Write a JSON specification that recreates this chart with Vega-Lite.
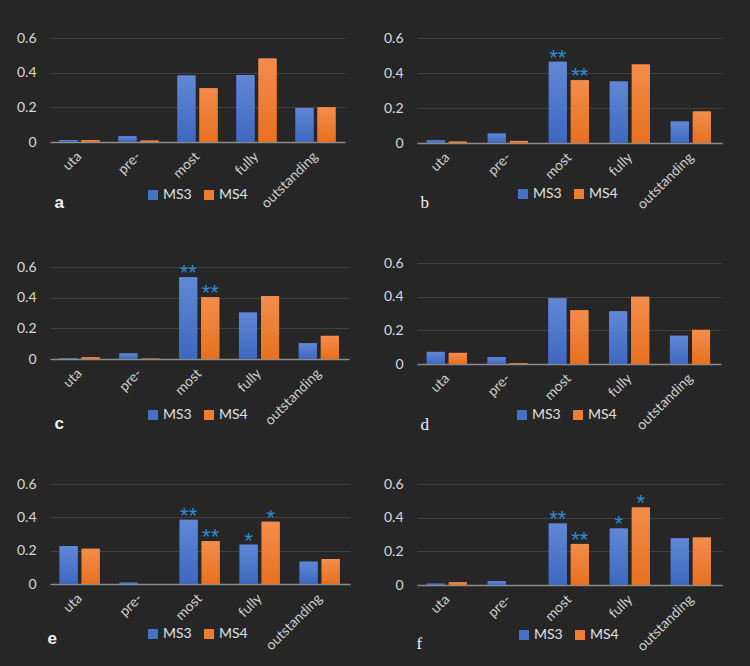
{
  "$schema": "https://vega.github.io/schema/vega-lite/v6.json",
  "background": "#262626",
  "padding": {"left": 16, "top": 31, "right": 32, "bottom": 14},
  "data": {
    "values": [
      {"panel": "a", "cat": "uta", "series": "MS3", "value": 0.01, "sig": ""},
      {"panel": "a", "cat": "uta", "series": "MS4", "value": 0.01, "sig": ""},
      {"panel": "a", "cat": "pre-", "series": "MS3", "value": 0.033, "sig": ""},
      {"panel": "a", "cat": "pre-", "series": "MS4", "value": 0.008, "sig": ""},
      {"panel": "a", "cat": "most", "series": "MS3", "value": 0.383, "sig": ""},
      {"panel": "a", "cat": "most", "series": "MS4", "value": 0.31, "sig": ""},
      {"panel": "a", "cat": "fully", "series": "MS3", "value": 0.387, "sig": ""},
      {"panel": "a", "cat": "fully", "series": "MS4", "value": 0.482, "sig": ""},
      {"panel": "a", "cat": "outstanding", "series": "MS3", "value": 0.196, "sig": ""},
      {"panel": "a", "cat": "outstanding", "series": "MS4", "value": 0.2, "sig": ""},
      {"panel": "b", "cat": "uta", "series": "MS3", "value": 0.015, "sig": ""},
      {"panel": "b", "cat": "uta", "series": "MS4", "value": 0.008, "sig": ""},
      {"panel": "b", "cat": "pre-", "series": "MS3", "value": 0.054, "sig": ""},
      {"panel": "b", "cat": "pre-", "series": "MS4", "value": 0.012, "sig": ""},
      {"panel": "b", "cat": "most", "series": "MS3", "value": 0.464, "sig": "**"},
      {"panel": "b", "cat": "most", "series": "MS4", "value": 0.358, "sig": "**"},
      {"panel": "b", "cat": "fully", "series": "MS3", "value": 0.351, "sig": ""},
      {"panel": "b", "cat": "fully", "series": "MS4", "value": 0.449, "sig": ""},
      {"panel": "b", "cat": "outstanding", "series": "MS3", "value": 0.123, "sig": ""},
      {"panel": "b", "cat": "outstanding", "series": "MS4", "value": 0.18, "sig": ""},
      {"panel": "c", "cat": "uta", "series": "MS3", "value": 0.004, "sig": ""},
      {"panel": "c", "cat": "uta", "series": "MS4", "value": 0.011, "sig": ""},
      {"panel": "c", "cat": "pre-", "series": "MS3", "value": 0.036, "sig": ""},
      {"panel": "c", "cat": "pre-", "series": "MS4", "value": 0.002, "sig": ""},
      {"panel": "c", "cat": "most", "series": "MS3", "value": 0.533, "sig": "**"},
      {"panel": "c", "cat": "most", "series": "MS4", "value": 0.402, "sig": "**"},
      {"panel": "c", "cat": "fully", "series": "MS3", "value": 0.303, "sig": ""},
      {"panel": "c", "cat": "fully", "series": "MS4", "value": 0.411, "sig": ""},
      {"panel": "c", "cat": "outstanding", "series": "MS3", "value": 0.103, "sig": ""},
      {"panel": "c", "cat": "outstanding", "series": "MS4", "value": 0.151, "sig": ""},
      {"panel": "d", "cat": "uta", "series": "MS3", "value": 0.072, "sig": ""},
      {"panel": "d", "cat": "uta", "series": "MS4", "value": 0.066, "sig": ""},
      {"panel": "d", "cat": "pre-", "series": "MS3", "value": 0.041, "sig": ""},
      {"panel": "d", "cat": "pre-", "series": "MS4", "value": 0.004, "sig": ""},
      {"panel": "d", "cat": "most", "series": "MS3", "value": 0.391, "sig": ""},
      {"panel": "d", "cat": "most", "series": "MS4", "value": 0.319, "sig": ""},
      {"panel": "d", "cat": "fully", "series": "MS3", "value": 0.313, "sig": ""},
      {"panel": "d", "cat": "fully", "series": "MS4", "value": 0.399, "sig": ""},
      {"panel": "d", "cat": "outstanding", "series": "MS3", "value": 0.168, "sig": ""},
      {"panel": "d", "cat": "outstanding", "series": "MS4", "value": 0.203, "sig": ""},
      {"panel": "e", "cat": "uta", "series": "MS3", "value": 0.228, "sig": ""},
      {"panel": "e", "cat": "uta", "series": "MS4", "value": 0.212, "sig": ""},
      {"panel": "e", "cat": "pre-", "series": "MS3", "value": 0.008, "sig": ""},
      {"panel": "e", "cat": "pre-", "series": "MS4", "value": 0, "sig": ""},
      {"panel": "e", "cat": "most", "series": "MS3", "value": 0.386, "sig": "**"},
      {"panel": "e", "cat": "most", "series": "MS4", "value": 0.257, "sig": "**"},
      {"panel": "e", "cat": "fully", "series": "MS3", "value": 0.236, "sig": "*"},
      {"panel": "e", "cat": "fully", "series": "MS4", "value": 0.374, "sig": "*"},
      {"panel": "e", "cat": "outstanding", "series": "MS3", "value": 0.134, "sig": ""},
      {"panel": "e", "cat": "outstanding", "series": "MS4", "value": 0.15, "sig": ""},
      {"panel": "f", "cat": "uta", "series": "MS3", "value": 0.008, "sig": ""},
      {"panel": "f", "cat": "uta", "series": "MS4", "value": 0.016, "sig": ""},
      {"panel": "f", "cat": "pre-", "series": "MS3", "value": 0.022, "sig": ""},
      {"panel": "f", "cat": "pre-", "series": "MS4", "value": 0, "sig": ""},
      {"panel": "f", "cat": "most", "series": "MS3", "value": 0.366, "sig": "**"},
      {"panel": "f", "cat": "most", "series": "MS4", "value": 0.244, "sig": "**"},
      {"panel": "f", "cat": "fully", "series": "MS3", "value": 0.336, "sig": "*"},
      {"panel": "f", "cat": "fully", "series": "MS4", "value": 0.461, "sig": "*"},
      {"panel": "f", "cat": "outstanding", "series": "MS3", "value": 0.278, "sig": ""},
      {"panel": "f", "cat": "outstanding", "series": "MS4", "value": 0.282, "sig": ""}
    ]
  },
  "config": {
    "view": {"stroke": null},
    "axisX": {
      "domainColor": "#8c8c8c", "domainWidth": 1.5, "ticks": false, "tickSize": 0, "grid": false,
      "labelAngle": -45, "labelAlign": "right", "labelBaseline": "middle", "labelPadding": 12,
      "labelFont": "Lato", "labelFontSize": 14, "labelColor": "#d0d0d0", "titleColor": "#f2f2f2",
      "titleAlign": "left", "titleBaseline": "alphabetic", "titleFontSize": 17
    },
    "axisY": {
      "domain": false, "ticks": false, "tickSize": 0, "labelPadding": 14,
      "labelFont": "Lato", "labelFontSize": 14, "labelColor": "#d9d9d9", "gridColor": "#404040", "gridWidth": 1
    },
    "legend": {
      "symbolType": "square", "symbolSize": 100, "symbolStrokeWidth": 0, "labelFont": "Lato",
      "labelFontSize": 14, "labelColor": "#e0e0e0", "labelOffset": 3, "columnPadding": 10, "padding": 0
    }
  },
  "resolve": {"scale": {"color": "independent"}},
  "spacing": 33,
  "hconcat": [
    {
      "bounds": "flush",
      "spacing": 125,
      "resolve": {"scale": {"color": "independent"}},
      "vconcat": [
        {
          "width": 295, "height": 104,
          "transform": [{"filter": "datum.panel === 'a'"}],
          "encoding": {
            "x": {"field": "cat", "type": "nominal", "sort": ["uta", "pre-", "most", "fully", "outstanding"], "scale": {"paddingInner": 0.32, "paddingOuter": 0.16},
              "axis": {"title": "a", "titleX": 4, "titleY": 65, "titleFont": "Liberation Sans", "titleFontWeight": "bold"}},
            "xOffset": {"field": "series", "type": "nominal", "scale": {"paddingInner": 0.18}},
            "y": {"field": "value", "type": "quantitative", "scale": {"domain": [0, 0.6]}, "axis": {"title": null, "values": [0, 0.2, 0.4, 0.6], "labelExpr": "datum.value === 0 ? '0' : format(datum.value, '.1f')"}}
          },
          "layer": [
            {"mark": {"type": "bar"}, "encoding": {"color": {"field": "series", "type": "nominal", "scale": {"domain": ["MS3", "MS4"], "range": ["#4472c4", "#ed7d31"]}, "legend": {"orient": "none", "legendX": 96, "legendY": 150, "direction": "horizontal", "title": null}}}},
            {"mark": {"type": "bar"}, "encoding": {"fill": {"condition": {"test": "datum.series === 'MS3'", "value": {"gradient": "linear", "x1": 0, "y1": 0, "x2": 0, "y2": 1, "stops": [{"offset": 0, "color": "#6088d6"}, {"offset": 1, "color": "#3d68bf"}]}}, "value": {"gradient": "linear", "x1": 0, "y1": 0, "x2": 0, "y2": 1, "stops": [{"offset": 0, "color": "#f38d4c"}, {"offset": 1, "color": "#e8701f"}]}}}},
            {"mark": {"type": "text", "font": "Liberation Sans", "fontSize": 22, "color": "#2e8ad2", "baseline": "alphabetic", "align": "center", "dy": 3}, "encoding": {"text": {"field": "sig"}}}
          ]
        },
        {
          "width": 299, "height": 92,
          "transform": [{"filter": "datum.panel === 'c'"}],
          "encoding": {
            "x": {"field": "cat", "type": "nominal", "sort": ["uta", "pre-", "most", "fully", "outstanding"], "scale": {"paddingInner": 0.32, "paddingOuter": 0.16},
              "axis": {"title": "c", "titleX": 4, "titleY": 69, "titleFont": "Liberation Sans", "titleFontWeight": "bold"}},
            "xOffset": {"field": "series", "type": "nominal", "scale": {"paddingInner": 0.18}},
            "y": {"field": "value", "type": "quantitative", "scale": {"domain": [0, 0.6]}, "axis": {"title": null, "values": [0, 0.2, 0.4, 0.6], "labelExpr": "datum.value === 0 ? '0' : format(datum.value, '.1f')"}}
          },
          "layer": [
            {"mark": {"type": "bar"}, "encoding": {"color": {"field": "series", "type": "nominal", "scale": {"domain": ["MS3", "MS4"], "range": ["#4472c4", "#ed7d31"]}, "legend": {"orient": "none", "legendX": 96, "legendY": 141, "direction": "horizontal", "title": null}}}},
            {"mark": {"type": "bar"}, "encoding": {"fill": {"condition": {"test": "datum.series === 'MS3'", "value": {"gradient": "linear", "x1": 0, "y1": 0, "x2": 0, "y2": 1, "stops": [{"offset": 0, "color": "#6088d6"}, {"offset": 1, "color": "#3d68bf"}]}}, "value": {"gradient": "linear", "x1": 0, "y1": 0, "x2": 0, "y2": 1, "stops": [{"offset": 0, "color": "#f38d4c"}, {"offset": 1, "color": "#e8701f"}]}}}},
            {"mark": {"type": "text", "font": "Liberation Sans", "fontSize": 22, "color": "#2e8ad2", "baseline": "alphabetic", "align": "center", "dy": 3}, "encoding": {"text": {"field": "sig"}}}
          ]
        },
        {
          "width": 300, "height": 100,
          "transform": [{"filter": "datum.panel === 'e'"}],
          "encoding": {
            "x": {"field": "cat", "type": "nominal", "sort": ["uta", "pre-", "most", "fully", "outstanding"], "scale": {"paddingInner": 0.32, "paddingOuter": 0.16},
              "axis": {"title": "e", "titleX": -3, "titleY": 59, "titleFont": "Liberation Sans", "titleFontWeight": "bold"}},
            "xOffset": {"field": "series", "type": "nominal", "scale": {"paddingInner": 0.18}},
            "y": {"field": "value", "type": "quantitative", "scale": {"domain": [0, 0.6]}, "axis": {"title": null, "values": [0, 0.2, 0.4, 0.6], "labelExpr": "datum.value === 0 ? '0' : format(datum.value, '.1f')"}}
          },
          "layer": [
            {"mark": {"type": "bar"}, "encoding": {"color": {"field": "series", "type": "nominal", "scale": {"domain": ["MS3", "MS4"], "range": ["#4472c4", "#ed7d31"]}, "legend": {"orient": "none", "legendX": 96, "legendY": 143, "direction": "horizontal", "title": null}}}},
            {"mark": {"type": "bar"}, "encoding": {"fill": {"condition": {"test": "datum.series === 'MS3'", "value": {"gradient": "linear", "x1": 0, "y1": 0, "x2": 0, "y2": 1, "stops": [{"offset": 0, "color": "#6088d6"}, {"offset": 1, "color": "#3d68bf"}]}}, "value": {"gradient": "linear", "x1": 0, "y1": 0, "x2": 0, "y2": 1, "stops": [{"offset": 0, "color": "#f38d4c"}, {"offset": 1, "color": "#e8701f"}]}}}},
            {"mark": {"type": "text", "font": "Liberation Sans", "fontSize": 22, "color": "#2e8ad2", "baseline": "alphabetic", "align": "center", "dy": 3}, "encoding": {"text": {"field": "sig"}}}
          ]
        }
      ]
    },
    {
      "bounds": "flush",
      "spacing": 120,
      "resolve": {"scale": {"color": "independent"}},
      "vconcat": [
        {
          "width": 305, "height": 105,
          "transform": [{"filter": "datum.panel === 'b'"}],
          "encoding": {
            "x": {"field": "cat", "type": "nominal", "sort": ["uta", "pre-", "most", "fully", "outstanding"], "scale": {"paddingInner": 0.32, "paddingOuter": 0.16},
              "axis": {"title": "b", "titleX": 3, "titleY": 64, "titleFont": "Liberation Serif", "titleFontWeight": "normal"}},
            "xOffset": {"field": "series", "type": "nominal", "scale": {"paddingInner": 0.18}},
            "y": {"field": "value", "type": "quantitative", "scale": {"domain": [0, 0.6]}, "axis": {"title": null, "values": [0, 0.2, 0.4, 0.6], "labelExpr": "datum.value === 0 ? '0' : format(datum.value, '.1f')"}}
          },
          "layer": [
            {"mark": {"type": "bar"}, "encoding": {"color": {"field": "series", "type": "nominal", "scale": {"domain": ["MS3", "MS4"], "range": ["#4472c4", "#ed7d31"]}, "legend": {"orient": "none", "legendX": 99, "legendY": 149, "direction": "horizontal", "title": null}}}},
            {"mark": {"type": "bar"}, "encoding": {"fill": {"condition": {"test": "datum.series === 'MS3'", "value": {"gradient": "linear", "x1": 0, "y1": 0, "x2": 0, "y2": 1, "stops": [{"offset": 0, "color": "#6088d6"}, {"offset": 1, "color": "#3d68bf"}]}}, "value": {"gradient": "linear", "x1": 0, "y1": 0, "x2": 0, "y2": 1, "stops": [{"offset": 0, "color": "#f38d4c"}, {"offset": 1, "color": "#e8701f"}]}}}},
            {"mark": {"type": "text", "font": "Liberation Sans", "fontSize": 22, "color": "#2e8ad2", "baseline": "alphabetic", "align": "center", "dy": 3}, "encoding": {"text": {"field": "sig"}}}
          ]
        },
        {
          "width": 304, "height": 101,
          "transform": [{"filter": "datum.panel === 'd'"}],
          "encoding": {
            "x": {"field": "cat", "type": "nominal", "sort": ["uta", "pre-", "most", "fully", "outstanding"], "scale": {"paddingInner": 0.32, "paddingOuter": 0.16},
              "axis": {"title": "d", "titleX": 3, "titleY": 65, "titleFont": "Liberation Serif", "titleFontWeight": "normal"}},
            "xOffset": {"field": "series", "type": "nominal", "scale": {"paddingInner": 0.18}},
            "y": {"field": "value", "type": "quantitative", "scale": {"domain": [0, 0.6]}, "axis": {"title": null, "values": [0, 0.2, 0.4, 0.6], "labelExpr": "datum.value === 0 ? '0' : format(datum.value, '.1f')"}}
          },
          "layer": [
            {"mark": {"type": "bar"}, "encoding": {"color": {"field": "series", "type": "nominal", "scale": {"domain": ["MS3", "MS4"], "range": ["#4472c4", "#ed7d31"]}, "legend": {"orient": "none", "legendX": 98, "legendY": 145, "direction": "horizontal", "title": null}}}},
            {"mark": {"type": "bar"}, "encoding": {"fill": {"condition": {"test": "datum.series === 'MS3'", "value": {"gradient": "linear", "x1": 0, "y1": 0, "x2": 0, "y2": 1, "stops": [{"offset": 0, "color": "#6088d6"}, {"offset": 1, "color": "#3d68bf"}]}}, "value": {"gradient": "linear", "x1": 0, "y1": 0, "x2": 0, "y2": 1, "stops": [{"offset": 0, "color": "#f38d4c"}, {"offset": 1, "color": "#e8701f"}]}}}},
            {"mark": {"type": "text", "font": "Liberation Sans", "fontSize": 22, "color": "#2e8ad2", "baseline": "alphabetic", "align": "center", "dy": 3}, "encoding": {"text": {"field": "sig"}}}
          ]
        },
        {
          "width": 305, "height": 101,
          "transform": [{"filter": "datum.panel === 'f'"}],
          "encoding": {
            "x": {"field": "cat", "type": "nominal", "sort": ["uta", "pre-", "most", "fully", "outstanding"], "scale": {"paddingInner": 0.32, "paddingOuter": 0.16},
              "axis": {"title": "f", "titleX": -1, "titleY": 63, "titleFont": "Liberation Serif", "titleFontWeight": "normal"}},
            "xOffset": {"field": "series", "type": "nominal", "scale": {"paddingInner": 0.18}},
            "y": {"field": "value", "type": "quantitative", "scale": {"domain": [0, 0.6]}, "axis": {"title": null, "values": [0, 0.2, 0.4, 0.6], "labelExpr": "datum.value === 0 ? '0' : format(datum.value, '.1f')"}}
          },
          "layer": [
            {"mark": {"type": "bar"}, "encoding": {"color": {"field": "series", "type": "nominal", "scale": {"domain": ["MS3", "MS4"], "range": ["#4472c4", "#ed7d31"]}, "legend": {"orient": "none", "legendX": 100, "legendY": 144, "direction": "horizontal", "title": null}}}},
            {"mark": {"type": "bar"}, "encoding": {"fill": {"condition": {"test": "datum.series === 'MS3'", "value": {"gradient": "linear", "x1": 0, "y1": 0, "x2": 0, "y2": 1, "stops": [{"offset": 0, "color": "#6088d6"}, {"offset": 1, "color": "#3d68bf"}]}}, "value": {"gradient": "linear", "x1": 0, "y1": 0, "x2": 0, "y2": 1, "stops": [{"offset": 0, "color": "#f38d4c"}, {"offset": 1, "color": "#e8701f"}]}}}},
            {"mark": {"type": "text", "font": "Liberation Sans", "fontSize": 22, "color": "#2e8ad2", "baseline": "alphabetic", "align": "center", "dy": 3}, "encoding": {"text": {"field": "sig"}}}
          ]
        }
      ]
    }
  ]
}
